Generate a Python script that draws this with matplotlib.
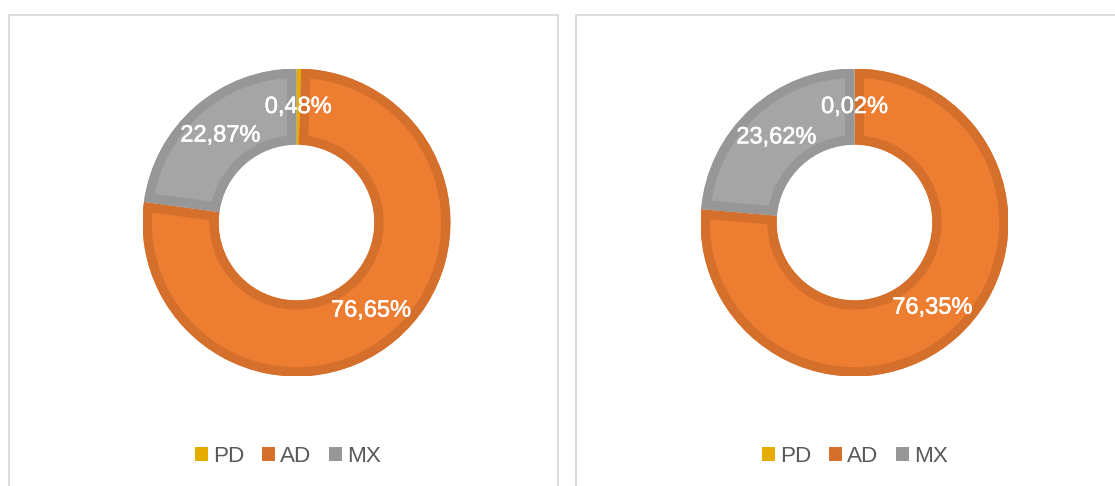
import matplotlib
matplotlib.use("Agg")
import matplotlib.pyplot as plt
import matplotlib.patches as mpatches
import matplotlib.patheffects as pe

plt.rcParams["font.family"] = ["Liberation Sans", "DejaVu Sans"]

# ── Data ────────────────────────────────────────────────────────────────────
categories = ["PD", "AD", "MX"]
left_values = [0.48, 76.65, 22.87]
right_values = [0.02, 76.35, 23.62]

fill_colors = ["#FFC000", "#ED7D31", "#A5A5A5"]
edge_colors = ["#E6AD00", "#D5702C", "#979797"]

W, H = 1115, 486
fig = plt.figure(figsize=(W / 100, H / 100), dpi=100)
fig.patch.set_facecolor("white")

# panel frames (pixel coords, y from top)
for x0, x1 in [(9, 558), (576, 1140)]:
    fig.patches.append(mpatches.Rectangle(
        (x0 / W, -0.05), (x1 - x0) / W, 1.05 - 15 / H,
        transform=fig.transFigure, facecolor="none",
        edgecolor="#D9D9D9", linewidth=1.3, zorder=0))

R = 154  # outer radius, px


def donut(cx, cy, values, legend_cx):
    ax = fig.add_axes([(cx - R) / W, (H - cy - R) / H, 2 * R / W, 2 * R / H])
    labels = [f"{v:.2f}%".replace(".", ",") for v in values]
    wedges, texts = ax.pie(
        values, labels=labels, colors=fill_colors, startangle=90,
        counterclock=False, radius=1, labeldistance=0.75,
        wedgeprops={"width": 0.495, "linewidth": 13.5},
        textprops={"fontsize": 17, "color": "white"},
    )
    # darker border drawn only on the inside of each slice
    for w, ec in zip(wedges, edge_colors):
        w.set_edgecolor(ec)
        w.set_clip_on(True)
        w.set_clip_path(w)
    for t in texts:
        t.set_ha("center")
        t.set_va("center")
        t.set_zorder(5)
        t.set_path_effects([pe.withStroke(linewidth=0.4, foreground="white")])
    ax.set_xlim(-1, 1)
    ax.set_ylim(-1, 1)
    ax.set_aspect("equal")
    ax.axis("off")

    handles = [mpatches.Patch(facecolor=c, edgecolor="none", label=n)
               for n, c in zip(categories, edge_colors)]
    fig.legend(handles=handles, loc="center", ncol=3, frameon=False,
               bbox_to_anchor=(legend_cx / W, (H - 456) / H),
               fontsize=16.2, labelcolor="#595959",
               handlelength=0.58, handleheight=0.58,
               handletextpad=0.25, columnspacing=0.75)


donut(296.5, 222.5, left_values, 288)
donut(854.5, 222.5, right_values, 855)

fig.savefig("out.png", dpi=100, facecolor="white")
plt.close(fig)
